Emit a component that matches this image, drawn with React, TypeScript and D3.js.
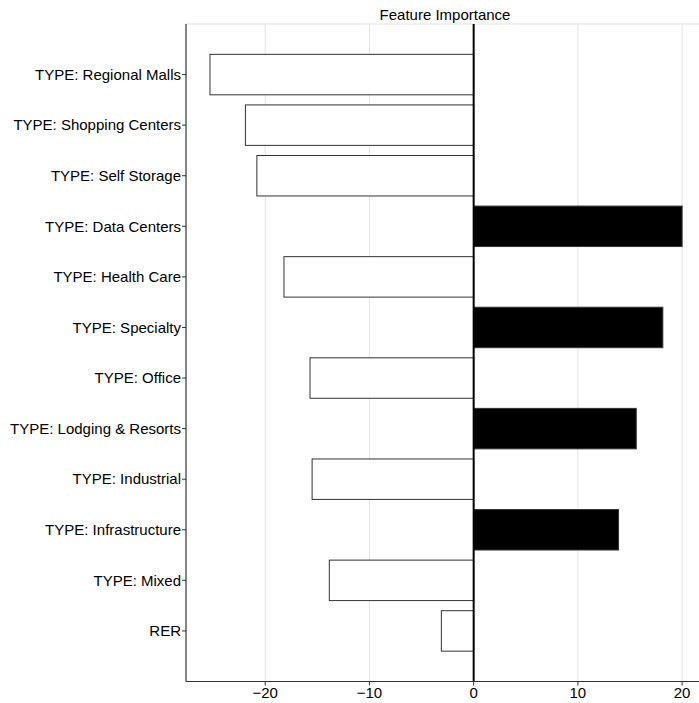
import React from "react";
import * as d3 from "d3";

const categories = [
  "TYPE: Regional Malls",
  "TYPE: Shopping Centers",
  "TYPE: Self Storage",
  "TYPE: Data Centers",
  "TYPE: Health Care",
  "TYPE: Specialty",
  "TYPE: Office",
  "TYPE: Lodging & Resorts",
  "TYPE: Industrial",
  "TYPE: Infrastructure",
  "TYPE: Mixed",
  "RER",
];
const values = [-25.3, -21.9, -20.8, 20.0, -18.2, 18.15, -15.7, 15.6, -15.5, 13.9, -13.85, -3.1];
const xTicks = [-20, -10, 0, 10, 20];
const title = "Feature Importance";

const W = 699;
const H = 703;
const left = 186;
const right = 704;
const top = 24;
const bottom = 681.5;
const FONT = "'Liberation Sans', Arial, sans-serif";

export default function App() {
  const x = d3.scaleLinear().domain([-27.6, 22.1]).range([left, right]);
  const y = d3.scalePoint<string>().domain(categories).range([top, bottom]).padding(1);
  const step = y.step();
  const bh = step * 0.8;
  const fmt = (v: number) => (v < 0 ? "\u2212" + Math.abs(v) : String(v));

  return (
    <svg width={W} height={H} style={{ position: "absolute", left: 0, top: 0, background: "#fff" }}>
      <rect x={0} y={0} width={W} height={H} fill="#fff" />
      {/* grid */}
      {xTicks.map((t) => (
        <line key={"g" + t} x1={x(t)} x2={x(t)} y1={top} y2={bottom} stroke="#e3e3e3" strokeWidth={1} />
      ))}
      <line x1={left} x2={right} y1={top} y2={top} stroke="#e3e3e3" strokeWidth={1} />
      {/* bars */}
      {categories.map((c, i) => {
        const v = values[i];
        const x0 = x(Math.min(0, v));
        const x1 = x(Math.max(0, v));
        return (
          <rect
            key={c}
            x={x0}
            y={(y(c) as number) - bh / 2}
            width={x1 - x0}
            height={bh}
            fill={v > 0 ? "#000" : "#fff"}
            stroke="#333"
            strokeWidth={1}
          />
        );
      })}
      {/* zero line */}
      <line x1={x(0)} x2={x(0)} y1={top} y2={bottom} stroke="#000" strokeWidth={2} />
      {/* axes */}
      <line x1={left} x2={left} y1={top} y2={bottom} stroke="#333" strokeWidth={1.2} />
      <line x1={left} x2={right} y1={bottom} y2={bottom} stroke="#333" strokeWidth={1.2} />
      {categories.map((c) => (
        <g key={"t" + c}>
          <line x1={left - 4} x2={left} y1={y(c)} y2={y(c)} stroke="#333" strokeWidth={1} />
          <text
            x={left - 5}
            y={y(c)}
            dy="0.35em"
            textAnchor="end"
            fontFamily={FONT}
            fontSize={15}
            fill="#000"
          >
            {c}
          </text>
        </g>
      ))}
      {xTicks.map((t) => (
        <g key={"xt" + t}>
          <line x1={x(t)} x2={x(t)} y1={bottom} y2={bottom + 4} stroke="#333" strokeWidth={1} />
          <text x={x(t)} y={bottom + 16.5} textAnchor="middle" fontFamily={FONT} fontSize={15} fill="#000">
            {fmt(t)}
          </text>
        </g>
      ))}
      <text x={(left + right) / 2} y={19.5} textAnchor="middle" fontFamily={FONT} fontSize={15} fill="#000">
        {title}
      </text>
    </svg>
  );
}
